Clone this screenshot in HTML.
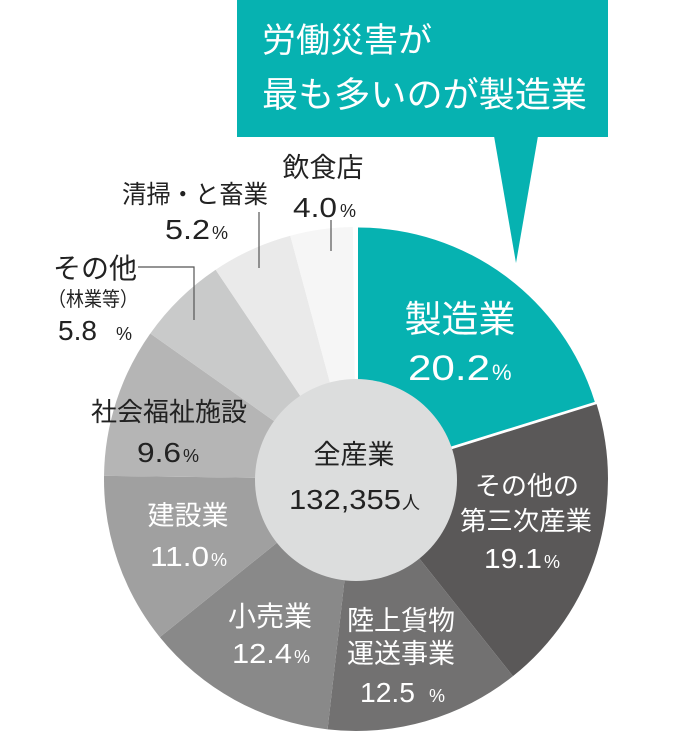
<!DOCTYPE html>
<html>
<head>
<meta charset="utf-8">
<style>
html,body{margin:0;padding:0;background:#fff;}
svg{display:block;}
text{font-family:"Liberation Sans","Noto Sans CJK JP",sans-serif;}
.j{font-family:"Noto Sans CJK JP","Liberation Sans",sans-serif;}
</style>
</head>
<body>
<svg width="700" height="732" viewBox="0 0 700 732" xmlns="http://www.w3.org/2000/svg">
  <!-- callout -->
  <rect x="237" y="0" width="371" height="137" fill="#06b2b1"/>
  <polygon points="494,136 538,136 516,263" fill="#06b2b1"/>
  <text class="j" x="262" y="52" font-size="34" fill="#fff" textLength="170" lengthAdjust="spacingAndGlyphs">労働災害が</text>
  <text class="j" x="262" y="107" font-size="35" fill="#fff" textLength="325" lengthAdjust="spacingAndGlyphs">最も多いのが製造業</text>

  <!-- pie slices, center (356,479) r=252 -->
  <path d="M356,479 L596.62,404.14 A252,252 0 0 1 512.97,676.14 Z" fill="#5a5858"/>
  <path d="M356,479 L512.97,676.14 A252,252 0 0 1 327.56,729.39 Z" fill="#727171"/>
  <path d="M356,479 L327.56,729.39 A252,252 0 0 1 159.80,637.15 Z" fill="#898989"/>
  <path d="M356,479 L159.80,637.15 A252,252 0 0 1 104.02,475.83 Z" fill="#a0a0a0"/>
  <path d="M356,479 L104.02,475.83 A252,252 0 0 1 150.29,333.44 Z" fill="#b5b5b5"/>
  <path d="M356,479 L150.29,333.44 A252,252 0 0 1 215.64,269.70 Z" fill="#c9caca"/>
  <path d="M356,479 L215.64,269.70 A252,252 0 0 1 290.27,235.72 Z" fill="#eaeaea"/>
  <path d="M356,479 L290.27,235.72 A252,252 0 0 1 352.83,227.02 Z" fill="#f6f6f6"/>
  <!-- exploded teal slice -->
  <path d="M358,475.5 L358,227.5 A248,248 0 0 1 594.81,401.83 Z" fill="#06b2b1"/>

  <!-- inner circle -->
  <circle cx="356" cy="480" r="101" fill="#dcdddd"/>

  <!-- leader lines -->
  <line x1="331" y1="220" x2="331" y2="251" stroke="#555" stroke-width="1.2"/>
  <line x1="259" y1="212" x2="259" y2="268" stroke="#555" stroke-width="1.2"/>
  <polyline points="138,267 194,267 194,320" fill="none" stroke="#555" stroke-width="1.2"/>

  <!-- outside labels -->
  <text class="j" x="323" y="177" font-size="27" fill="#222" text-anchor="middle">飲食店</text>
  <text x="293" y="217" font-size="28" fill="#222" textLength="44" lengthAdjust="spacingAndGlyphs">4.0</text>
  <text x="340" y="217" font-size="18" fill="#222">%</text>

  <text class="j" x="122" y="203" font-size="25" fill="#222" textLength="146" lengthAdjust="spacingAndGlyphs">清掃・と畜業</text>
  <text x="165" y="239" font-size="28" fill="#222" textLength="45" lengthAdjust="spacingAndGlyphs">5.2</text>
  <text x="212" y="239" font-size="18" fill="#222">%</text>

  <text class="j" x="95" y="278" font-size="28" fill="#222" text-anchor="middle">その他</text>
  <text class="j" x="48" y="306" font-size="20" fill="#222" textLength="90" lengthAdjust="spacingAndGlyphs">（林業等）</text>
  <text x="58" y="340" font-size="28" fill="#222" textLength="39" lengthAdjust="spacingAndGlyphs">5.8</text>
  <text x="116" y="340" font-size="18" fill="#222">%</text>

  <!-- inside labels -->
  <text class="j" x="169" y="421" font-size="26" fill="#222" text-anchor="middle">社会福祉施設</text>
  <text x="137" y="462" font-size="28" fill="#222" textLength="44" lengthAdjust="spacingAndGlyphs">9.6</text>
  <text x="183" y="462" font-size="18" fill="#222">%</text>

  <text class="j" x="188" y="525" font-size="27" fill="#fff" text-anchor="middle">建設業</text>
  <text x="150" y="566" font-size="28" fill="#fff" textLength="59" lengthAdjust="spacingAndGlyphs">11.0</text>
  <text x="211" y="566" font-size="18" fill="#fff">%</text>

  <text class="j" x="270" y="626" font-size="28" fill="#fff" text-anchor="middle">小売業</text>
  <text x="232" y="663" font-size="28" fill="#fff" textLength="60" lengthAdjust="spacingAndGlyphs">12.4</text>
  <text x="294" y="663" font-size="18" fill="#fff">%</text>

  <text class="j" x="401" y="630" font-size="27" fill="#fff" text-anchor="middle">陸上貨物</text>
  <text class="j" x="401" y="663" font-size="27" fill="#fff" text-anchor="middle">運送事業</text>
  <text x="360" y="702" font-size="28" fill="#fff" textLength="55" lengthAdjust="spacingAndGlyphs">12.5</text>
  <text x="429" y="702" font-size="18" fill="#fff">%</text>

  <text class="j" x="527" y="495" font-size="26" fill="#fff" text-anchor="middle">その他の</text>
  <text class="j" x="526" y="530" font-size="26" fill="#fff" text-anchor="middle" textLength="132" lengthAdjust="spacingAndGlyphs">第三次産業</text>
  <text x="484" y="568" font-size="28" fill="#fff" textLength="58" lengthAdjust="spacingAndGlyphs">19.1</text>
  <text x="544" y="568" font-size="18" fill="#fff">%</text>

  <text class="j" x="460" y="332" font-size="37" fill="#fff" text-anchor="middle">製造業</text>
  <text x="408" y="380" font-size="35" fill="#fff" textLength="82" lengthAdjust="spacingAndGlyphs">20.2</text>
  <text x="492" y="380" font-size="22" fill="#fff">%</text>

  <!-- center -->
  <text class="j" x="354" y="464" font-size="27" fill="#222" text-anchor="middle">全産業</text>
  <text x="289" y="509" font-size="28" fill="#222" textLength="112" lengthAdjust="spacingAndGlyphs">132,355</text>
  <text class="j" x="402" y="509" font-size="18" fill="#222">人</text>
</svg>
</body>
</html>
